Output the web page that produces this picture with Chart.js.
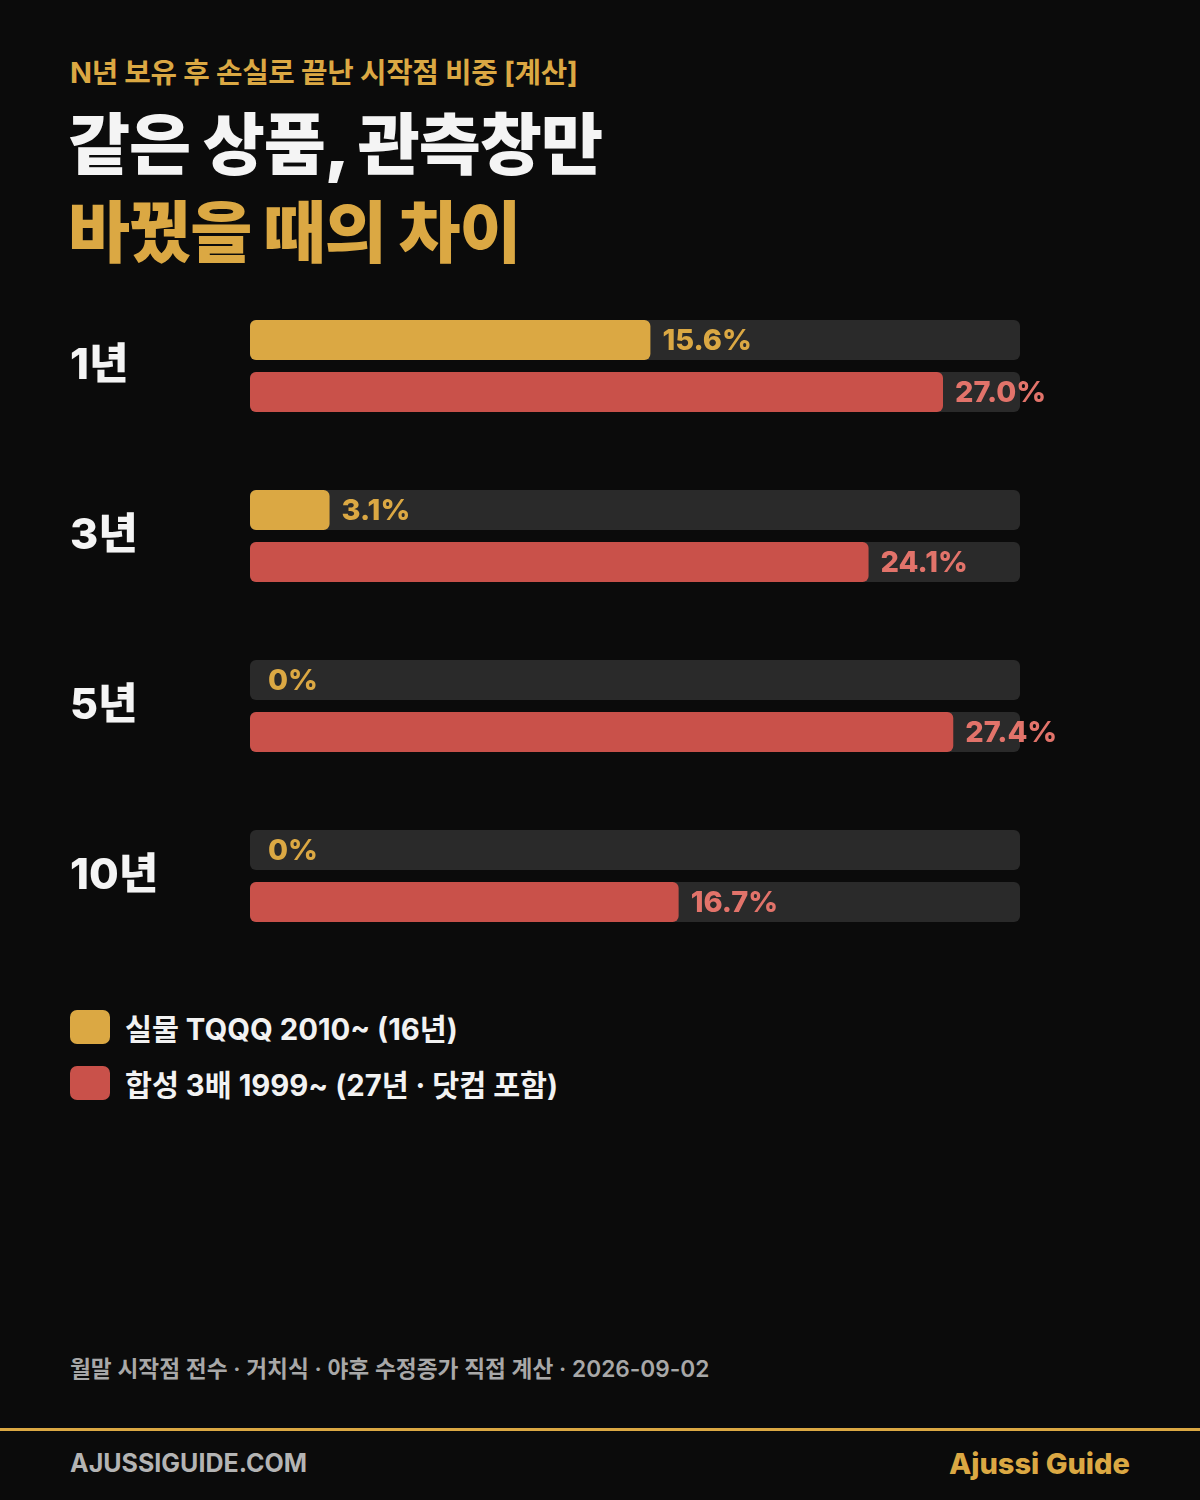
<!DOCTYPE html>
<html lang="ko">
<head>
<meta charset="utf-8">
<script src="https://cdn.jsdelivr.net/npm/chart.js@4/dist/chart.umd.min.js"></script>
<style>
  html, body { margin: 0; padding: 0; background: #0b0b0b; }
  body { width: 1200px; height: 1500px; position: relative; overflow: hidden;
         font-family: Inter, "Noto Sans CJK KR", sans-serif; }
  .abs { position: absolute; white-space: nowrap; }
  #kicker { left: 70px; top: 53px; font-size: 28.8px; font-weight: 700; color: #dba843; line-height: 40px; letter-spacing: -0.3px; }
  #head1 { left: 68px; top: 100px; font-size: 67.5px; font-weight: 900; color: #f4f4f4; line-height: 90px; letter-spacing: -1px; }
  #head2 { left: 68px; top: 188px; font-size: 67.5px; font-weight: 900; color: #dba843; line-height: 90px; letter-spacing: -1px; }
  #chartBox { left: 70px; top: 281px; width: 990px; height: 680px; }
  #legend { left: 70px; top: 1006px; }
  .lg { display: flex; align-items: center; height: 42px; margin-bottom: 14px; font-size: 29.3px; font-weight: 700; color: #f2f2f2; }
  .sw { width: 40px; height: 34px; border-radius: 7px; margin-right: 15px; }
  #note { left: 70px; top: 1353px; font-size: 22.7px; font-weight: 600; color: #a8a8a8; line-height: 32px; }
  #rule { left: 0; top: 1428px; width: 1200px; height: 3px; background: #dba843; }
  #site { left: 70px; top: 1446px; font-size: 25px; font-weight: 700; color: #b4b4b4; line-height: 34px; }
  #brand { right: 70px; top: 1445px; font-size: 29px; font-weight: 800; color: #dba843; line-height: 38px; }
</style>
</head>
<body>
<div class="abs" id="kicker">N년 보유 후 손실로 끝난 시작점 비중 [계산]</div>
<div class="abs" id="head1">같은 상품, 관측창만</div>
<div class="abs" id="head2">바꿨을 때의 차이</div>
<div class="abs" id="chartBox"><canvas id="chart"></canvas></div>
<div class="abs" id="legend"></div>
<div class="abs" id="note">월말 시작점 전수 · 거치식 · 야후 수정종가 직접 계산 · 2026-09-02</div>
<div class="abs" id="rule"></div>
<div class="abs" id="site">AJUSSIGUIDE.COM</div>
<div class="abs" id="brand">Ajussi Guide</div>
<script>
const periods = ['1년', '3년', '5년', '10년']
const realLabel = '실물 TQQQ 2010~ (16년)'
const realValues = [15.6, 3.1, 0, 0]
const synthLabel = '합성 3배 1999~ (27년 · 닷컴 포함)'
const synthValues = [27.0, 24.1, 27.4, 16.7]
const axisMax = 30

const GOLD = '#dba843'
const RED = '#c9514a'
const RED_TEXT = '#e2736a'
const TRACK = '#2a2a2a'
const FONT = 'Inter, "Noto Sans CJK KR", sans-serif'

// zero values get no visible bar, only the label
function fillFor(color) {
	return ctx => ctx.raw === 0 ? 'rgba(0,0,0,0)' : color
}

const datasets = [
	{ label: realLabel, data: realValues, backgroundColor: fillFor(GOLD), swatch: GOLD, textColor: GOLD },
	{ label: synthLabel, data: synthValues, backgroundColor: fillFor(RED), swatch: RED, textColor: RED_TEXT }
]

// grey track behind every bar
const trackPlugin = {
	id: 'tracks',
	beforeDatasetsDraw(chart) {
		const ctx = chart.ctx, area = chart.chartArea
		ctx.save()
		ctx.fillStyle = TRACK
		chart.data.datasets.forEach((ds, i) => {
			chart.getDatasetMeta(i).data.forEach(bar => {
				ctx.beginPath()
				ctx.roundRect(area.left, bar.y - bar.height / 2, area.right - area.left, bar.height, 6)
				ctx.fill()
			})
		})
		ctx.restore()
	}
}

// value text at the end of each bar
const valuePlugin = {
	id: 'values',
	afterDatasetsDraw(chart) {
		const ctx = chart.ctx, area = chart.chartArea
		ctx.save()
		ctx.font = '800 29px ' + FONT
		ctx.textBaseline = 'middle'
		ctx.textAlign = 'left'
		chart.data.datasets.forEach((ds, i) => {
			chart.getDatasetMeta(i).data.forEach((bar, j) => {
				const v = ds.data[j]
				const txt = v === 0 ? '0%' : v.toFixed(1) + '%'
				ctx.fillStyle = ds.textColor
				ctx.fillText(txt, Math.max(bar.x, area.left + 6) + 12, bar.y + 1)
			})
		})
		ctx.restore()
	}
}

new Chart(document.getElementById('chart'), {
	type: 'bar',
	data: { labels: periods, datasets: datasets },
	options: {
		indexAxis: 'y',
		responsive: true,
		maintainAspectRatio: false,
		animation: false,
		layout: { padding: { top: 0, bottom: 0, left: 0, right: 40 } },
		datasets: {
			bar: {
				categoryPercentage: 104 / 170,
				barPercentage: 40 / 52,
				borderRadius: 6,
				borderSkipped: false
			}
		},
		plugins: { legend: { display: false }, tooltip: { enabled: false } },
		scales: {
			x: { display: false, min: 0, max: axisMax },
			y: {
				grid: { display: false },
				border: { display: false },
				afterFit(scale) {
					scale.width = 180
					scale.paddingTop = 0
					scale.paddingBottom = 0
				},
				ticks: {
					crossAlign: 'far',
					padding: 0,
					color: '#f4f4f4',
					font: { family: FONT, size: 43, weight: '800' }
				}
			}
		}
	},
	plugins: [trackPlugin, valuePlugin]
})

// legend built from the datasets
const legend = document.getElementById('legend')
datasets.forEach(ds => {
	const row = document.createElement('div')
	row.className = 'lg'
	row.innerHTML = '<div class="sw" style="background:' + ds.swatch + '"></div><span>' + ds.label + '</span>'
	legend.appendChild(row)
})
</script>
</body>
</html>
